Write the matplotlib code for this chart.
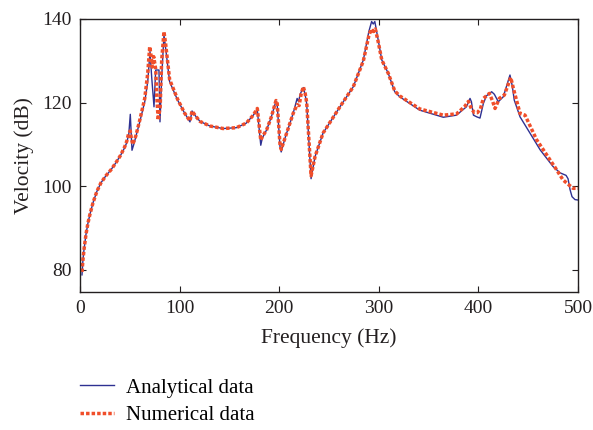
# -*- coding: utf-8 -*-

import matplotlib
matplotlib.use('Agg')
import matplotlib.pyplot as plt

plt.rcParams['font.family'] = ['Liberation Serif', 'DejaVu Serif']

# 解析解 (Hz, dB)
freq_a = [2, 3, 4, 6, 8, 10, 13, 17, 21, 26, 31, 36, 41, 45, 47, 49, 50.5, 52.2, 54, 60,
          65, 68, 70.3, 72, 74.3, 76, 79.3, 80.3, 82, 84.3, 86, 90, 98, 105, 110.4, 112.5,
          116, 120.5, 130.5, 143.6, 157, 167, 174, 178, 181.5, 183, 187.4, 192, 196.8,
          198, 200.8, 202, 205.8, 214, 218, 219.5, 221, 224.2, 226, 227.6, 232, 236, 244,
          261, 274.4, 284.5, 290, 292.8, 294.4, 296, 299, 303, 309.5, 316, 321, 341,
          364.8, 378, 388, 391.6, 393, 395, 398.3, 401.6, 405, 408, 413.3, 416, 420, 425,
          431.7, 434, 436, 441.8, 451.8, 462, 475, 482, 488, 490, 492, 494, 497, 500]
vel_a = [78.8, 82.5, 84.8, 88.5, 91.2, 93.3, 96.0, 98.8, 100.8, 102.5, 103.9, 105.6,
         107.5, 109.3, 110.5, 112.5, 117.2, 108.6, 110.0, 115.4, 120.2, 125.0, 132.2,
         126.0, 119.0, 127.8, 127.8, 115.4, 126.0, 136.2, 133.0, 125.0, 120.6, 117.5,
         115.4, 118.0, 116.8, 115.5, 114.4, 113.8, 114.0, 115.1, 117.0, 118.3, 109.8,
         111.5, 113.5, 116.5, 120.4, 119.5, 109.5, 108.2, 111.5, 117.4, 121.0, 120.2,
         122.0, 123.6, 122.0, 119.8, 101.8, 107.1, 112.7, 119.0, 123.8, 130.2, 137.0,
         139.4, 138.8, 139.4, 135.5, 130.2, 127.0, 122.6, 121.4, 118.2, 116.5, 117.0,
         119.0, 121.0, 120.2, 117.0, 116.6, 116.3, 119.8, 121.6, 122.6, 122.0, 120.2,
         121.4, 126.6, 124.0, 120.6, 116.6, 112.7, 108.7, 104.7, 103.2, 102.6, 101.8,
         99.2, 97.5, 96.8, 96.7]

# 数值解 (Hz, dB)
freq_n = [2, 3, 4, 6, 8, 10, 13, 17, 21, 26, 31, 36, 41, 45, 47, 49, 50.5, 51.5, 53, 56,
          60, 65, 68, 70, 71.5, 72.5, 74, 76, 77, 78.5, 80.5, 82, 84.3, 86, 90, 98, 105,
          110.4, 112.5, 116, 120.5, 130.5, 143.6, 157, 167, 174, 178, 181.5, 183, 187.4,
          192, 196.8, 198, 200.8, 202, 205.8, 214, 218, 220, 222, 224.2, 226, 227.6, 232,
          236, 244, 261, 274.4, 284.5, 290, 292.5, 294.5, 296.5, 299, 303, 309.5, 316,
          321, 341, 364.8, 378, 386, 390, 393, 396, 399, 402, 405, 411, 414, 416.7, 421,
          426, 432.5, 435, 441.8, 446.8, 458.5, 478.6, 485, 495, 500]
vel_n = [79.5, 82.5, 84.8, 88.5, 91.2, 93.3, 96.0, 98.8, 100.8, 102.5, 103.9, 105.6,
         107.5, 109.5, 110.8, 112.8, 113.2, 111.5, 110.0, 112.0, 115.8, 121.0, 127.0,
         133.4, 131.0, 128.5, 131.0, 128.0, 122.0, 115.8, 119.0, 130.0, 137.0, 134.0,
         125.5, 120.8, 117.5, 115.6, 118.0, 116.8, 115.5, 114.4, 113.8, 114.0, 115.1,
         117.0, 118.6, 111.0, 111.8, 113.5, 116.5, 120.5, 119.8, 110.0, 108.8, 111.5,
         117.4, 119.5, 119.3, 122.0, 123.8, 122.3, 120.0, 102.5, 107.1, 112.7, 119.0,
         123.8, 130.0, 136.0, 137.6, 137.0, 137.6, 135.0, 130.2, 127.0, 122.8, 121.6,
         118.5, 117.0, 117.3, 119.0, 120.3, 118.5, 117.6, 117.6, 118.5, 121.0, 122.2,
         120.5, 118.6, 121.0, 121.8, 126.0, 123.5, 117.4, 117.0, 111.1, 103.9, 101.5,
         99.5, 99.5]

x_ticks = [0, 100, 200, 300, 400, 500]
y_ticks = [80, 100, 120, 140]

fig = plt.figure(figsize=(5.93, 4.30), dpi=100)
ax = fig.add_axes([80 / 593, 1 - 292 / 430, 498 / 593, 273 / 430])

ax.plot(freq_a, vel_a, color='#2e3192', lw=1.0, label='Analytical data')
ax.plot(freq_n, vel_n, color='#f04e2a', lw=2.5, linestyle=(0, (1, 0.6)),
        label='Numerical data')

ax.set_xlim(0, 500)
ax.set_ylim(74.7, 140)
ax.set_xticks(x_ticks)
ax.set_yticks(y_ticks)
ax.tick_params(direction='in', top=True, right=True, length=4, width=0.8,
               labelsize=14, color='#231f20', labelcolor='#231f20', pad=6)
for s in ax.spines.values():
    s.set_color('#231f20')
    s.set_linewidth(1.0)

ax.set_xlabel('Frequency (Hz)', fontsize=15.5, color='#231f20', labelpad=8)
ax.set_ylabel('Velocity (dB)', fontsize=15.5, color='#231f20', labelpad=6)

fig.legend(loc='upper left', bbox_to_anchor=(80 / 593, 1 - 378 / 430),
           bbox_transform=fig.transFigure, frameon=False, fontsize=15,
           handlelength=1.65, handletextpad=0.55, labelspacing=0.4,
           borderpad=0, borderaxespad=0)

fig.savefig('out.png', dpi=100)
